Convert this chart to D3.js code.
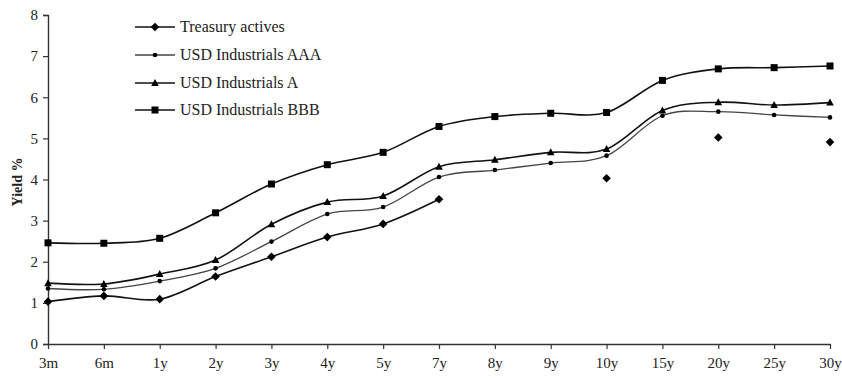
<!DOCTYPE html>
<html>
<head>
<meta charset="utf-8">
<script src="https://cdn.jsdelivr.net/npm/d3@7"></script>
<style>
  html, body { margin: 0; padding: 0; background: #fff; }
  svg { display: block; font-family: "Liberation Serif", "Times New Roman", serif; }
</style>
</head>
<body>
<svg id="chart" width="842" height="379"></svg>
<script>
// Maturities along the curve
const maturities = ["3m", "6m", "1y", "2y", "3y", "4y", "5y", "7y", "8y", "9y", "10y", "15y", "20y", "25y", "30y"];
const yTicks = [0, 1, 2, 3, 4, 5, 6, 7, 8];

// Yields (%) per maturity; null where no quote exists
const treasury = [1.03, 1.17, 1.09, 1.64, 2.12, 2.60, 2.92, 3.52, null, null, 4.03, null, 5.02, null, 4.91];
const aaa      = [1.35, 1.33, 1.53, 1.84, 2.49, 3.16, 3.33, 4.06, 4.23, 4.40, 4.58, 5.55, 5.65, 5.57, 5.51];
const singleA  = [1.48, 1.46, 1.70, 2.04, 2.91, 3.45, 3.60, 4.31, 4.48, 4.66, 4.74, 5.68, 5.88, 5.81, 5.87];
const bbb      = [2.46, 2.45, 2.57, 3.19, 3.89, 4.36, 4.66, 5.29, 5.53, 5.61, 5.63, 6.41, 6.69, 6.72, 6.76];

const seriesNames = ["Treasury actives", "USD Industrials AAA", "USD Industrials A", "USD Industrials BBB"];

const series = [
  { name: seriesNames[0], values: treasury, marker: "diamond", stroke: "#111", width: 1.6 },
  { name: seriesNames[1], values: aaa,      marker: "circle",  stroke: "#444", width: 1.3 },
  { name: seriesNames[2], values: singleA,  marker: "triangle", stroke: "#111", width: 1.6 },
  { name: seriesNames[3], values: bbb,      marker: "square",  stroke: "#111", width: 1.6 }
];

const svg = d3.select("#chart");
const plot = { left: 48, right: 830, top: 15, bottom: 344 };

const x = d3.scalePoint().domain(maturities).range([plot.left, plot.right]);
const y = d3.scaleLinear().domain([0, 8]).range([plot.bottom, plot.top]);

const axisColor = "#333";

// Y axis
const yAxis = svg.append("g").attr("transform", `translate(${plot.left},0)`)
  .call(d3.axisLeft(y).tickValues(yTicks).tickSize(5).tickPadding(5).tickFormat(d3.format("d")));
yAxis.select(".domain").attr("stroke", axisColor).attr("stroke-width", 1.4);
yAxis.selectAll(".tick line").attr("stroke", axisColor).attr("stroke-width", 1.2);
yAxis.selectAll(".tick text").attr("font-size", 15).attr("fill", "#222")
  .attr("font-family", "Liberation Serif, serif");

// X axis
const xAxis = svg.append("g").attr("transform", `translate(0,${plot.bottom})`)
  .call(d3.axisBottom(x).tickSize(5).tickSizeOuter(0).tickPadding(8));
xAxis.select(".domain").attr("stroke", axisColor).attr("stroke-width", 1.4);
xAxis.selectAll(".tick line").attr("stroke", axisColor).attr("stroke-width", 1.2);
xAxis.selectAll(".tick text").attr("font-size", 15).attr("fill", "#222")
  .attr("font-family", "Liberation Serif, serif");

// Y axis title
svg.append("text")
  .attr("transform", `translate(22,182) rotate(-90)`)
  .attr("text-anchor", "middle")
  .attr("font-size", 14).attr("font-weight", "bold").attr("fill", "#222")
  .text("Yield %");

// Marker shapes
function drawMarker(g, kind, cx, cy, color) {
  if (kind === "diamond") {
    g.append("path").attr("d", `M${cx},${cy - 4.3}L${cx + 4.3},${cy}L${cx},${cy + 4.3}L${cx - 4.3},${cy}Z`).attr("fill", color);
  } else if (kind === "circle") {
    g.append("circle").attr("cx", cx).attr("cy", cy).attr("r", 2.3).attr("fill", color);
  } else if (kind === "triangle") {
    g.append("path").attr("d", `M${cx},${cy - 4}L${cx + 3.8},${cy + 3}L${cx - 3.8},${cy + 3}Z`).attr("fill", color);
  } else if (kind === "square") {
    g.append("rect").attr("x", cx - 3.5).attr("y", cy - 3.5).attr("width", 7).attr("height", 7).attr("fill", color);
  }
}

const line = d3.line()
  .defined(d => d.v !== null)
  .x(d => x(d.m))
  .y(d => y(d.v))
  .curve(d3.curveCardinal.tension(0));

series.forEach(s => {
  const pts = maturities.map((m, i) => ({ m, v: s.values[i] }));
  // Lines only join consecutive quoted maturities
  svg.append("path")
    .datum(pts)
    .attr("d", line)
    .attr("fill", "none")
    .attr("stroke", s.stroke)
    .attr("stroke-width", s.width);
  const g = svg.append("g");
  pts.filter(p => p.v !== null).forEach(p => drawMarker(g, s.marker, x(p.m), y(p.v), "#000"));
});

// Legend
const legend = svg.append("g");
const rowY = [27, 55, 83, 110];
series.forEach((s, i) => {
  const ly = rowY[i];
  legend.append("line").attr("x1", 135).attr("x2", 175).attr("y1", ly).attr("y2", ly)
    .attr("stroke", s.stroke).attr("stroke-width", s.width);
  drawMarker(legend, s.marker, 155, ly, "#000");
  legend.append("text").attr("x", 180).attr("y", ly + 5)
    .attr("font-size", 16).attr("fill", "#222")
    .text(s.name);
});
</script>
</body>
</html>
